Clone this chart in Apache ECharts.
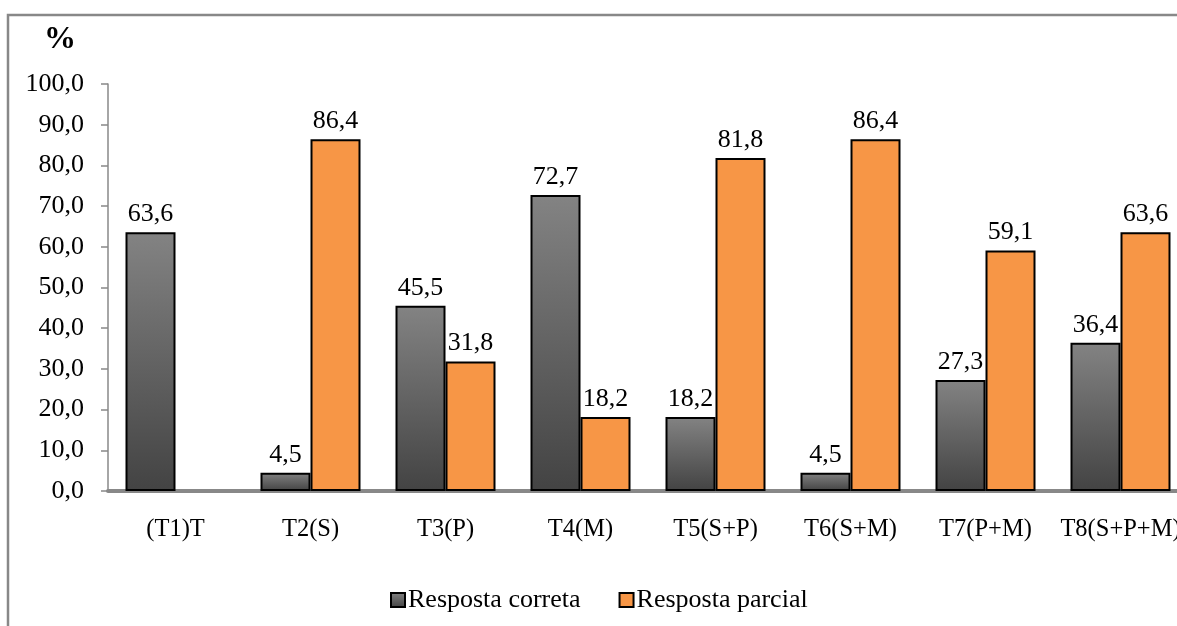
<!DOCTYPE html>
<html>
<head>
<meta charset="utf-8">
<style>
  html, body { margin: 0; padding: 0; background: #fff; }
  #chart { width: 1177px; height: 626px; }
</style>
<script src="https://cdn.jsdelivr.net/npm/echarts@6/dist/echarts.min.js"></script>
</head>
<body>
<div id="chart"></div>
<script>
// Task categories
const categories = ['(T1)T', 'T2(S)', 'T3(P)', 'T4(M)', 'T5(S+P)', 'T6(S+M)', 'T7(P+M)', 'T8(S+P+M)'];
// Percentages per answer type
const respostaCorreta = [63.6, 4.5, 45.5, 72.7, 18.2, 4.5, 27.3, 36.4];
const respostaParcial = [null, 86.4, 31.8, 18.2, 81.8, 86.4, 59.1, 63.6];
// Y axis range
const yMin = 0, yMax = 100, yStep = 10;

const fmt = v => Number(v).toFixed(1).replace('.', ',');
const FONT = '"Liberation Serif", "Times New Roman", serif';

const grayFill = new echarts.graphic.LinearGradient(0, 0, 0, 1, [
  { offset: 0, color: '#838383' },
  { offset: 1, color: '#434343' }
]);

const chart = echarts.init(document.getElementById('chart'), null, { renderer: 'canvas' });

const labelStyle = {
  show: true,
  position: 'top',
  distance: 5,
  color: '#000',
  fontFamily: FONT,
  fontSize: 26,
  formatter: p => (p.value == null ? '' : fmt(p.value))
};

chart.setOption({
  animation: false,
  backgroundColor: '#fff',
  textStyle: { fontFamily: FONT },
  graphic: [
    {
      type: 'rect',
      shape: { x: 8, y: 15, width: 1300, height: 700 },
      style: { fill: 'none', stroke: '#888', lineWidth: 2.5 },
      silent: true
    },
    {
      type: 'text',
      left: 44,
      top: 24,
      style: { text: '%', fontFamily: FONT, fontSize: 32, fontWeight: 'bold', fill: '#000' }
    }
  ],
  // the plot runs past the right edge of the frame, so the last label is clipped
  grid: { left: 108, top: 84, width: 1080, height: 407, containLabel: false, outerBoundsMode: 'none' },
  legend: {
    top: 582,
    left: 385,
    itemWidth: 14,
    itemHeight: 14,
    itemGap: 38,
    icon: 'rect',
    textStyle: { fontFamily: FONT, fontSize: 26, color: '#000', padding: [0, 0, 0, -2] },
    data: ['Resposta correta', 'Resposta parcial']
  },
  xAxis: {
    type: 'category',
    data: categories,
    axisLine: { lineStyle: { color: '#888', width: 4 } },
    axisTick: { show: false },
    axisLabel: {
      interval: 0,
      hideOverlap: false,
      color: '#000',
      fontFamily: FONT,
      fontSize: 24.5,
      margin: 26
    }
  },
  yAxis: {
    type: 'value',
    min: yMin,
    max: yMax,
    interval: yStep,
    axisLine: { show: true, lineStyle: { color: '#888', width: 1.5 } },
    axisTick: { show: true, length: 7, lineStyle: { color: '#888', width: 1.5 } },
    splitLine: { show: false },
    axisLabel: { color: '#000', fontFamily: FONT, fontSize: 26, margin: 24, formatter: v => fmt(v) }
  },
  series: [
    {
      name: 'Resposta correta',
      type: 'bar',
      data: respostaCorreta,
      barWidth: 50,
      barGap: '0%',
      itemStyle: { color: grayFill, borderColor: '#000', borderWidth: 2 },
      label: labelStyle
    },
    {
      name: 'Resposta parcial',
      type: 'bar',
      data: respostaParcial,
      barWidth: 50,
      barGap: '0%',
      itemStyle: { color: '#F79646', borderColor: '#000', borderWidth: 2 },
      label: labelStyle
    }
  ]
});
</script>
</body>
</html>
